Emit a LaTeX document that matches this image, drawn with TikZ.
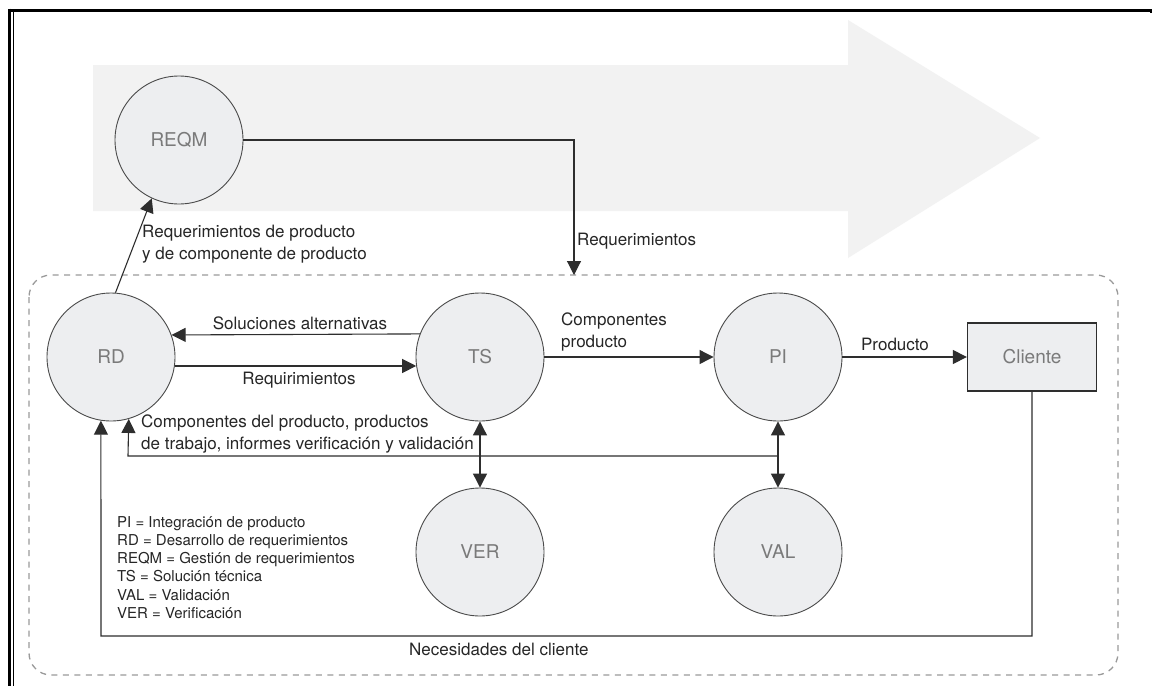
\documentclass[tikz,border=0pt]{standalone}
\usepackage{fontspec}
\setmainfont{TeX Gyre Heros}
\usetikzlibrary{arrows.meta}
\definecolor{nodefill}{HTML}{EDEEF0}
\definecolor{bandfill}{HTML}{F2F2F2}
\definecolor{nodeline}{HTML}{4A4A4A}
\definecolor{nodetext}{HTML}{7A7A7A}
\definecolor{wire}{HTML}{2E2E2E}
\definecolor{dashgray}{HTML}{9A9A9A}
\begin{document}
\begin{tikzpicture}[x=1pt,y=-1pt,
  process/.style={circle,draw=nodeline,line width=0.9pt,fill=nodefill,
    minimum size=128pt,inner sep=0pt,text=nodetext,
    font=\fontsize{19}{22}\selectfont},
  actor/.style={rectangle,draw=wire,line width=1.3pt,fill=nodefill,
    minimum width=129pt,minimum height=68pt,inner sep=0pt,text=nodetext,
    font=\fontsize{19}{22}\selectfont},
  flow/.style={draw=wire,line width=1.1pt,
    -{Triangle[length=14pt,width=14pt]}},
  twoway/.style={draw=wire,line width=1.1pt,
    {Triangle[length=14pt,width=14pt]}-{Triangle[length=14pt,width=14pt]}},
  lbl/.style={inner sep=0pt,text=black!85,font=\fontsize{17}{22}\selectfont},
  legend/.style={inner sep=0pt,text=black!85,align=left,
    font=\fontsize{15}{18.2}\selectfont}]

% canvas
\useasboundingbox (0,0) rectangle (1152,686);
\fill[white] (0,0) rectangle (1152,686);

% page frame
\draw[line width=3pt] (8,10) -- (1152,10);
\draw[line width=3pt] (9.5,8.5) -- (9.5,686);
\draw[line width=1.5pt] (13.3,11) -- (13.3,686);
\draw[line width=1.5pt] (1151,10) -- (1151,13);

% background process arrow
\fill[bandfill] (93,65) -- (848,65) -- (848,20) -- (1040,138)
  -- (848,258) -- (848,211) -- (93,211) -- cycle;

% project boundary
\draw[dashgray,line width=1.3pt,dash pattern=on 6pt off 5.5pt,rounded corners=22pt]
  (29,275) rectangle (1118,675);

% process areas
\node[process] (REQM) at (179,140) {REQM};
\node[process] (RD)   at (111,357) {RD};
\node[process] (TS)   at (480,357) {TS};
\node[process] (PI)   at (778,357) {PI};
\node[process] (VER)  at (480,552) {VER};
\node[process] (VAL)  at (778,552) {VAL};
\node[actor]   (CL)   at (1032,357) {Cliente};

% routing points
\coordinate (reqturn) at (574,140);
\coordinate (reqin)   at (574,275);
\coordinate (fbj)     at (778,456);
\coordinate (fbL)     at (128,456);
\coordinate (needR)   at (1032,636);
\coordinate (needL)   at (101,636);

% connectors
\draw[flow] (REQM.east) -- (reqturn) -- (reqin);
\draw[flow] (RD.86) -- (REQM.-115);
\draw[flow] (TS.159.9) -- (RD.20.1);
\draw[flow] (RD.-8.1) -- (TS.188.1);
\draw[flow] (TS.east) -- (PI.west);
\draw[flow] (PI.east) -- (CL.west);
\draw[twoway] (TS.south) -- (VER.north);
\draw[twoway] (PI.south) -- (VAL.north);
\draw[flow] (fbj) -- (fbL) -- (RD.-74.6);
\draw[flow] (CL.south) -- (needR) -- (needL) -- (RD.-99);

% connector labels
\node[lbl,anchor=west] at (577,241) {Requerimientos};
\node[lbl,anchor=west,align=left] at (142,244)
  {Requerimientos de producto\\y de componente de producto};
\node[lbl] at (300,323) {Soluciones alternativas};
\node[lbl] at (299,380) {Requirimientos};
\node[lbl,anchor=west,align=left] at (561,332) {Componentes\\producto};
\node[lbl] at (895,344) {Producto};
\node[lbl,anchor=west,align=left] at (141,434)
  {Componentes del producto, productos\\de trabajo, informes verificación y validación};
\node[lbl,anchor=west] at (409,649) {Necesidades del cliente};

% abbreviations
\node[legend,anchor=west] at (117,567.5)
  {PI = Integración de producto\\
   RD = Desarrollo de requerimientos\\
   REQM = Gestión de requerimientos\\
   TS = Solución técnica\\
   VAL = Validación\\
   VER = Verificación};
\end{tikzpicture}
\end{document}
